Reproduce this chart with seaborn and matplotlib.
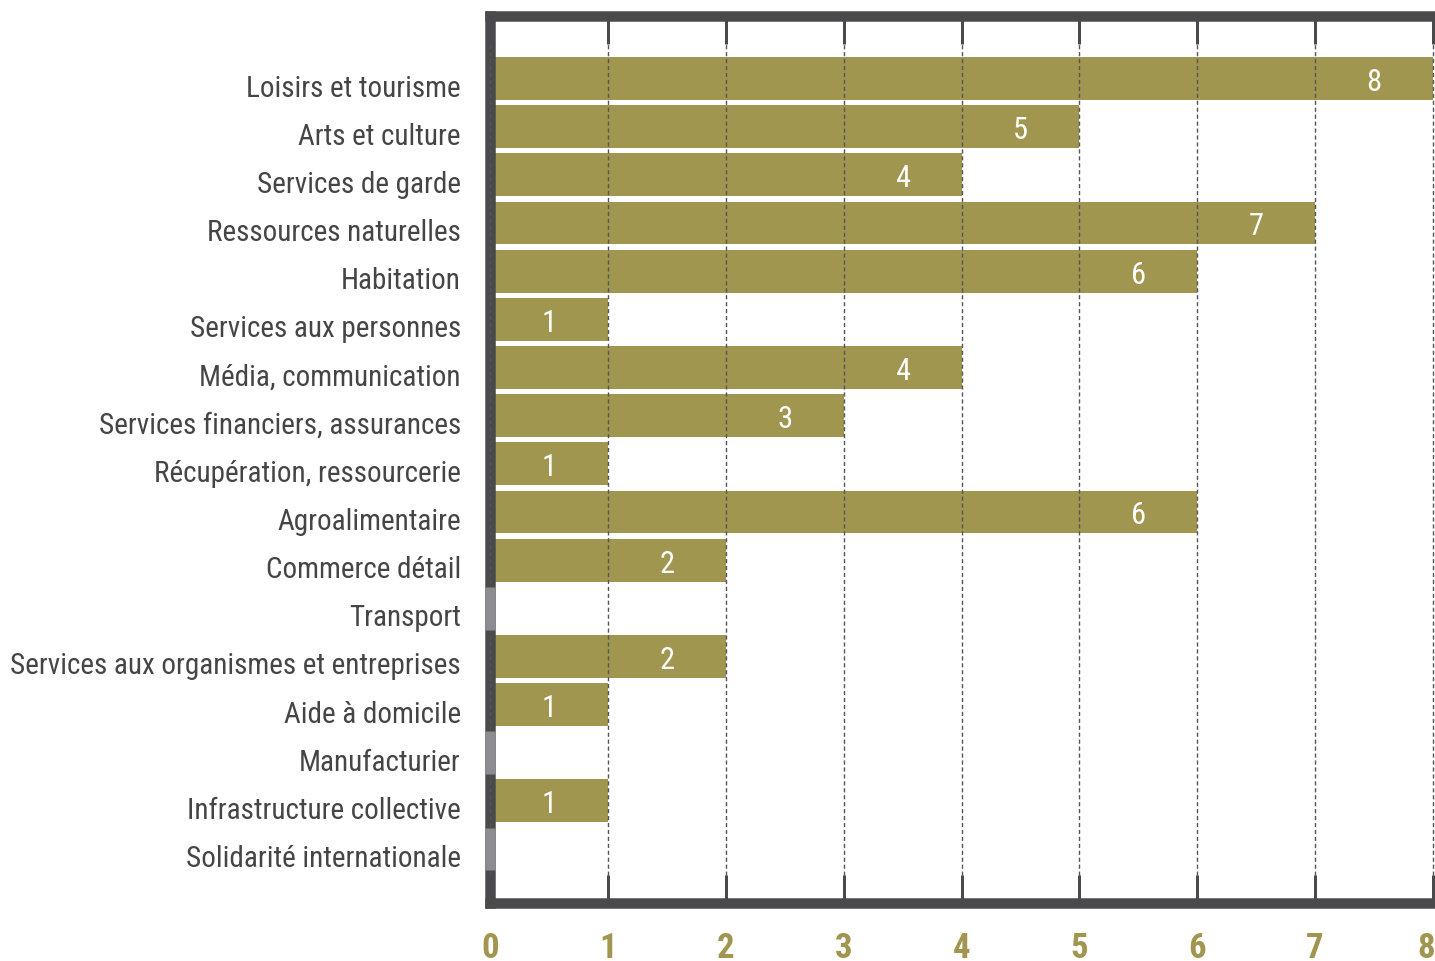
import matplotlib
matplotlib.use('Agg')
import matplotlib.pyplot as plt
import seaborn as sns
import pandas as pd
from matplotlib import font_manager as fm
from matplotlib.transforms import ScaledTranslation

categories = [
    "Loisirs et tourisme", "Arts et culture", "Services de garde",
    "Ressources naturelles", "Habitation", "Services aux personnes",
    "Média, communication", "Services financiers, assurances",
    "Récupération, ressourcerie", "Agroalimentaire", "Commerce détail",
    "Transport", "Services aux organismes et entreprises", "Aide à domicile",
    "Manufacturier", "Infrastructure collective", "Solidarité internationale",
]
values = [8, 5, 4, 7, 6, 1, 4, 3, 1, 6, 2, 0, 2, 1, 0, 1, 0]
x_ticks = [0, 1, 2, 3, 4, 5, 6, 7, 8]

OLIVE = "#A0964F"
DARK = "#4A4A4C"
LGRAY = "#8D8D91"
TEXT = "#454545"

sns.set_style("white")
names = {f.name for f in fm.fontManager.ttflist}
cond = None
for cand in ["Roboto Condensed", "Open Sans Condensed", "Liberation Sans Narrow", "Arial Narrow"]:
    if cand in names:
        cond = cand
        break
if cond:
    plt.rcParams["font.family"] = [cond, "DejaVu Sans"]
    plt.rcParams["font.stretch"] = "normal"
else:
    plt.rcParams["font.family"] = ["DejaVu Sans"]
    plt.rcParams["font.stretch"] = "condensed"

W, H = 1435, 962
fig = plt.figure(figsize=(W / 100, H / 100), dpi=100)
ax = fig.add_axes([490 / W, 1 - 904 / H, 945 / W, (904 - 17) / H])

df = pd.DataFrame({"cat": categories, "val": values})
sns.barplot(data=df, x="val", y="cat", orient="h", color=OLIVE, saturation=1,
            width=0.89, linewidth=0, ax=ax, zorder=1)

unit = 117.875
ax.set_xlim(0, 945 / unit)
ax.set_ylim(17.12, -1.30)
ax.set_xticks(x_ticks)
ax.set_xticklabels([str(t) for t in x_ticks])
ax.set_xlabel("")
ax.set_ylabel("")

spw = 10.5 * 0.72
for side in ["top", "bottom", "left"]:
    ax.spines[side].set_visible(True)
    ax.spines[side].set_linewidth(spw)
    ax.spines[side].set_color(DARK)
    ax.spines[side].set_capstyle("projecting")
ax.spines["right"].set_visible(False)

ax.set_axisbelow(False)
ax.xaxis.grid(True, linestyle=(0, (3, 2)), color="#555555", linewidth=1.0)
ax.yaxis.grid(False)

ax.tick_params(axis="x", which="both", top=True, bottom=True, direction="in",
               length=28 * 0.72, width=3 * 0.72, color=DARK, labelsize=25,
               labelcolor=OLIVE, pad=20)
xlabs = ax.get_xticklabels()
for lab in xlabs:
    lab.set_fontweight("bold")
xlabs[-1].set_horizontalalignment("right")
xlabs[-1].set_transform(xlabs[-1].get_transform() + ScaledTranslation(0.02, 0, fig.dpi_scale_trans))
ax.tick_params(axis="y", length=0, pad=21, labelcolor=TEXT, labelsize=20)

# scale the category label font so the longest label spans ~451 px
fig.canvas.draw()
r = fig.canvas.get_renderer()
wmax = max(t.get_window_extent(r).width for t in ax.get_yticklabels())
fs = 20 * 451 / wmax
ax.tick_params(axis="y", labelsize=fs)
for lab in ax.get_yticklabels():
    lab.set_transform(lab.get_transform() + ScaledTranslation(0, -0.06, fig.dpi_scale_trans))

for i, v in enumerate(values):
    if v > 0:
        ax.text(v - 0.5, i + 0.06, str(v), ha="center", va="center", color="white",
                fontsize=22, zorder=4)
    else:
        ax.plot([0, 0], [i - 0.445, i + 0.445], color=LGRAY, lw=spw,
                solid_capstyle="butt", clip_on=False, zorder=3)

fig.savefig("out.png", dpi=100)
